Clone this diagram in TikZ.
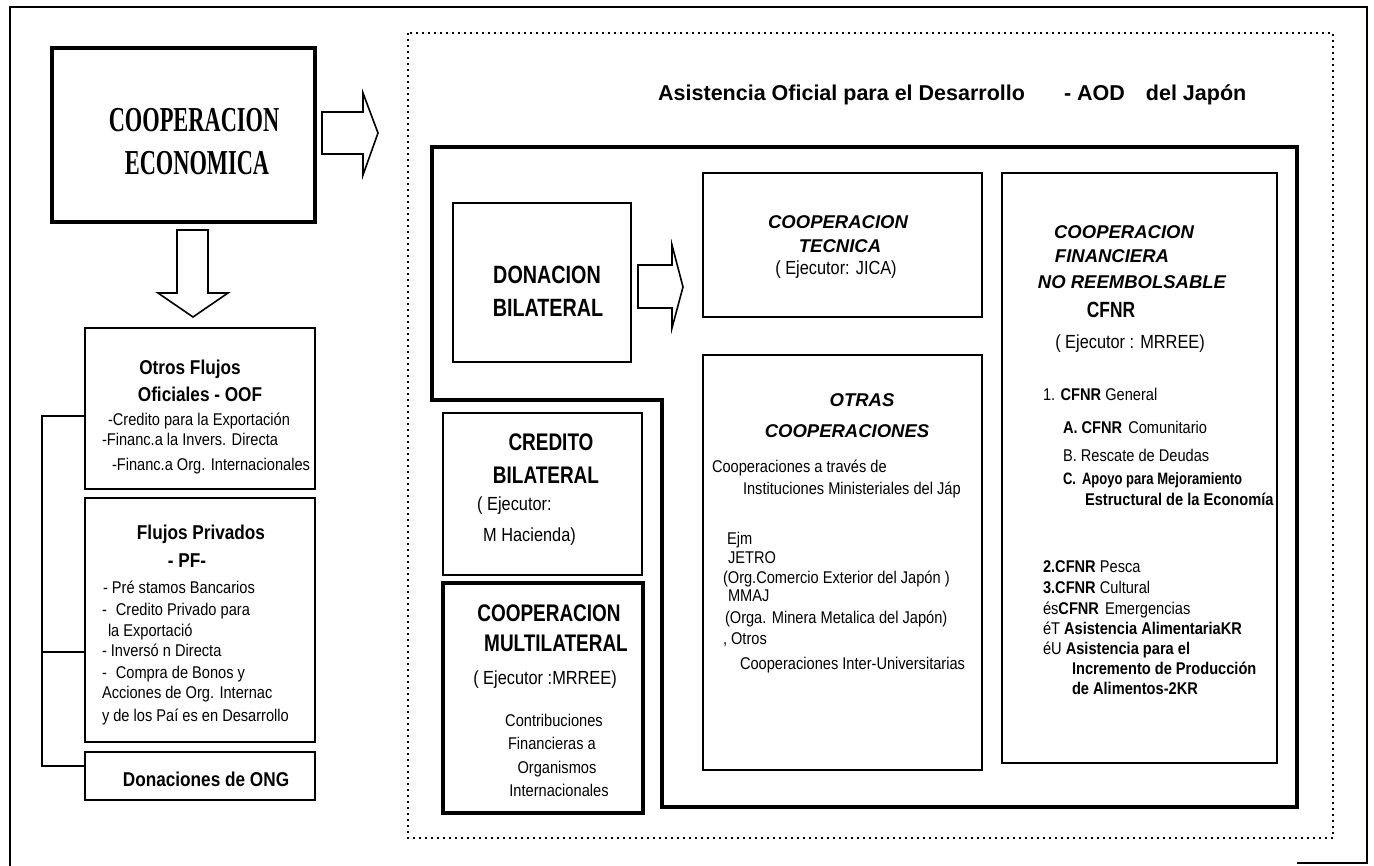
\documentclass[tikz,border=0pt]{standalone}
\usepackage{fontspec}
\setmainfont{Liberation Sans}
\newfontfamily\bodyf[FakeStretch=0.86]{Liberation Sans}
\newfontfamily\narrowf[FakeStretch=0.79]{Liberation Sans}
\newfontfamily\serifn[FakeStretch=0.64]{Liberation Serif}
\usetikzlibrary{calc}

\tikzset{
  boxline/.style={draw, line width=#1, inner sep=0pt, outer sep=0pt},
  boxline/.default=2pt,
  hollow/.style={draw, line width=1.6pt, line join=miter, fill=white},
  bracketline/.style={draw, line width=1.6pt},
  txt/.style={inner sep=0pt, outer sep=0pt, anchor=base west, font=\bodyf\fontsize{17}{20}\selectfont},
  ctxt/.style={txt, anchor=base},
  btxt/.style={txt, font=\bodyf\bfseries\fontsize{17}{20}\selectfont},
  headtxt/.style={inner sep=0pt, anchor=base, font=\bodyf\bfseries\fontsize{20}{24}\selectfont},
  capstxt/.style={inner sep=0pt, anchor=base, font=\narrowf\bfseries\fontsize{25}{28}\selectfont},
  midcaps/.style={capstxt, font=\narrowf\bfseries\fontsize{24}{28}\selectfont},
  itxt/.style={inner sep=0pt, anchor=base, font=\bfseries\itshape\fontsize{18.5}{22}\selectfont},
  exectxt/.style={inner sep=0pt, anchor=base, font=\bodyf\fontsize{19}{22}\selectfont},
  serifcaps/.style={inner sep=0pt, anchor=base, font=\serifn\bfseries\fontsize{35}{40}\selectfont},
}

\begin{document}
\begin{tikzpicture}[x=1pt,y=-1pt]
\useasboundingbox (0,0) rectangle (1374,866);
\fill[white] (0,0) rectangle (1374,866);

% outer page frame
\draw[line width=1.4pt] (1297,863) -- (1367,863) -- (1367,7) -- (10,7) -- (10,866);

% dotted frame of the AOD block
\draw[line width=2pt, dash pattern=on 1.8pt off 4.2pt] (408,33) rectangle (1333,838);

% heavy outline around the donation group
\draw[line width=4.5pt, line join=miter] (432,147) -- (1297,147) -- (1297,807) -- (662,807) -- (662,400) -- (432,400) -- cycle;

% ---------- left column ----------
\node[boxline=3.5pt, minimum width=263pt, minimum height=174pt] (coop) at (183.5,135) {};
\node[serifcaps] (coop1) at (194,132) {COOPERACION};
\node[serifcaps] (coop2) at (197,175) {ECONOMICA};

\node[boxline, minimum width=230pt, minimum height=161pt] (otros) at (200,408.5) {};
\node[headtxt] (ot1) at (190,375) {Otros Flujos};
\node[headtxt] (ot2) at (200,402) {Oficiales - OOF};
\node[txt] (ot3) at (108,426) {-Credito para la Exportación};
\node[txt] (ot4) at (102,446) {-Financ.a la Invers. Directa};
\node[txt] (ot5) at (112,471) {-Financ.a Org. Internacionales};

\node[boxline, minimum width=230pt, minimum height=244pt] (fp) at (200,620) {};
\node[headtxt] (fp1) at (201,539) {Flujos Privados};
\node[headtxt] (fp2) at (187,567) {- PF-};
\node[txt] (fp3) at (103,593) {- Pré stamos Bancarios};
\node[txt] (fp4) at (102,615) {-\hspace{9pt}Credito Privado para};
\node[txt] (fp5) at (108,636) {la Exportació};
\node[txt] (fp6) at (102,656) {- Inversó n Directa};
\node[txt] (fp7) at (102,678) {-\hspace{9pt}Compra de Bonos y};
\node[txt] (fp8) at (102,698) {Acciones de Org. Internac};
\node[txt] (fp9) at (102,721) {y de los Paí es en Desarrollo};

\node[boxline, minimum width=230pt, minimum height=48pt] (ong) at (200,776) {};
\node[headtxt] (ong1) at (206,786) {Donaciones de ONG};

% bracket joining the three flow boxes
\coordinate (bt) at (42,416);
\coordinate (bm) at (42,652);
\coordinate (bb) at (42,766);
\draw[bracketline] (otros.west |- bt) -- (bt) -- (bb) -- (ong.west |- bb);
\draw[bracketline] (bm) -- (fp.west |- bm);

% hollow block arrows
\draw[hollow, shift={(coop.east)}] (7,-23) -- (48,-23) -- (48,-42) -- (63,-2) -- (48,40) -- (48,19) -- (7,19) -- cycle;
\draw[hollow, shift={(coop.south)}] (-6.5,8) -- (24.5,8) -- (24.5,71) -- (44.5,71) -- (9.5,95) -- (-25.5,71) -- (-6.5,71) -- cycle;

% ---------- title ----------
\node[inner sep=0pt, anchor=base west, font=\bfseries\fontsize{21.5}{26}\selectfont] (title) at (658,101)
  {Asistencia Oficial para el Desarrollo\hspace{39pt}-\hspace{6pt}AOD\hspace{21pt}del Japón};

% ---------- middle column ----------
\node[boxline, minimum width=178pt, minimum height=159pt] (don) at (542,282.5) {};
\node[capstxt] (don1) at (547,284) {DONACION};
\node[capstxt] (don2) at (548,317) {BILATERAL};
\draw[hollow, shift={(don.east)}] (7,-17.5) -- (41,-17.5) -- (41,-37.5) -- (52,4.5) -- (41,45.5) -- (41,25.5) -- (7,25.5) -- cycle;

\node[boxline, minimum width=199pt, minimum height=162pt] (cred) at (542.5,494) {};
\node[midcaps] (cred1) at (551,450) {CREDITO};
\node[midcaps] (cred2) at (546,483) {BILATERAL};
\node[exectxt, anchor=base west] (cred3) at (477,511) {( Ejecutor:};
\node[exectxt, anchor=base west] (cred4) at (483,541) {M Hacienda)};

\node[boxline=3.5pt, minimum width=200pt, minimum height=230pt] (multi) at (543,698) {};
\node[midcaps] (mu1) at (549,621) {COOPERACION};
\node[midcaps] (mu2) at (556,651) {MULTILATERAL};
\node[exectxt] (mu3) at (545,684) {( Ejecutor :MRREE)};
\node[ctxt] (mu4) at (554,726) {Contribuciones};
\node[txt] (mu5) at (508,749) {Financieras a};
\node[ctxt] (mu6) at (557,773) {Organismos};
\node[ctxt] (mu7) at (559,796) {Internacionales};

% ---------- technical cooperation ----------
\node[boxline, minimum width=279pt, minimum height=144pt] (tec) at (842.5,245) {};
\node[itxt] (tec1) at (838,229) {COOPERACION};
\node[itxt] (tec2) at (840,253) {TECNICA};
\node[exectxt] (tec3) at (836,275) {( Ejecutor: JICA)};

\node[boxline, minimum width=279pt, minimum height=415pt] (otras) at (842.5,562.5) {};
\node[itxt] (oc1) at (862,407) {OTRAS};
\node[itxt] (oc2) at (847,438) {COOPERACIONES};
\node[txt] (oc3) at (712,472) {Cooperaciones a través de};
\node[txt] (oc4) at (743,494) {Instituciones Ministeriales del Jáp};
\node[txt] (oc5) at (727,544) {Ejm};
\node[txt] (oc6) at (728,563) {JETRO};
\node[txt] (oc7) at (723,583) {(Org.Comercio Exterior del Japón )};
\node[txt] (oc8) at (728,601) {MMAJ};
\node[txt] (oc9) at (725,623) {(Orga. Minera Metalica del Japón)};
\node[txt] (oc10) at (723,644) {, Otros};
\node[txt] (oc11) at (740,669) {Cooperaciones Inter-Universitarias};

% ---------- non-refundable financial cooperation ----------
\node[boxline, minimum width=275pt, minimum height=590pt] (cfnr) at (1139.5,468) {};
\node[itxt] (cf1) at (1124,239) {COOPERACION};
\node[itxt] (cf2) at (1112,263) {FINANCIERA};
\node[itxt] (cf3) at (1132,289) {NO REEMBOLSABLE};
\node[capstxt, font=\narrowf\bfseries\fontsize{22}{26}\selectfont] (cf4) at (1111,318) {CFNR};
\node[exectxt] (cf5) at (1130,349) {( Ejecutor : MRREE)};
\node[txt] (cf6) at (1043,401) {1. {\bfseries CFNR} General};
\node[txt] (cf7) at (1063,434) {{\bfseries A. CFNR}\hspace{6pt}Comunitario};
\node[txt] (cf8) at (1063,461) {B. Rescate de Deudas};
\node[btxt, font=\narrowf\bfseries\fontsize{16.5}{20}\selectfont] (cf9) at (1063,485) {C.\hspace{6pt}Apoyo para Mejoramiento};
\node[btxt] (cf10) at (1085,505) {Estructural de la Economía};
\node[txt] (cf11) at (1043,572) {{\bfseries 2.CFNR} Pesca};
\node[txt] (cf12) at (1043,593) {{\bfseries 3.CFNR} Cultural};
\node[txt] (cf13) at (1043,614) {és{\bfseries CFNR}\hspace{6pt}Emergencias};
\node[txt] (cf14) at (1043,634) {éT\hspace{4pt}{\bfseries Asistencia AlimentariaKR}};
\node[txt] (cf15) at (1043,654) {éU {\bfseries Asistencia para el}};
\node[btxt] (cf16) at (1072,674) {Incremento de Producción};
\node[btxt] (cf17) at (1072,694) {de Alimentos-2KR};
\end{tikzpicture}
\end{document}
